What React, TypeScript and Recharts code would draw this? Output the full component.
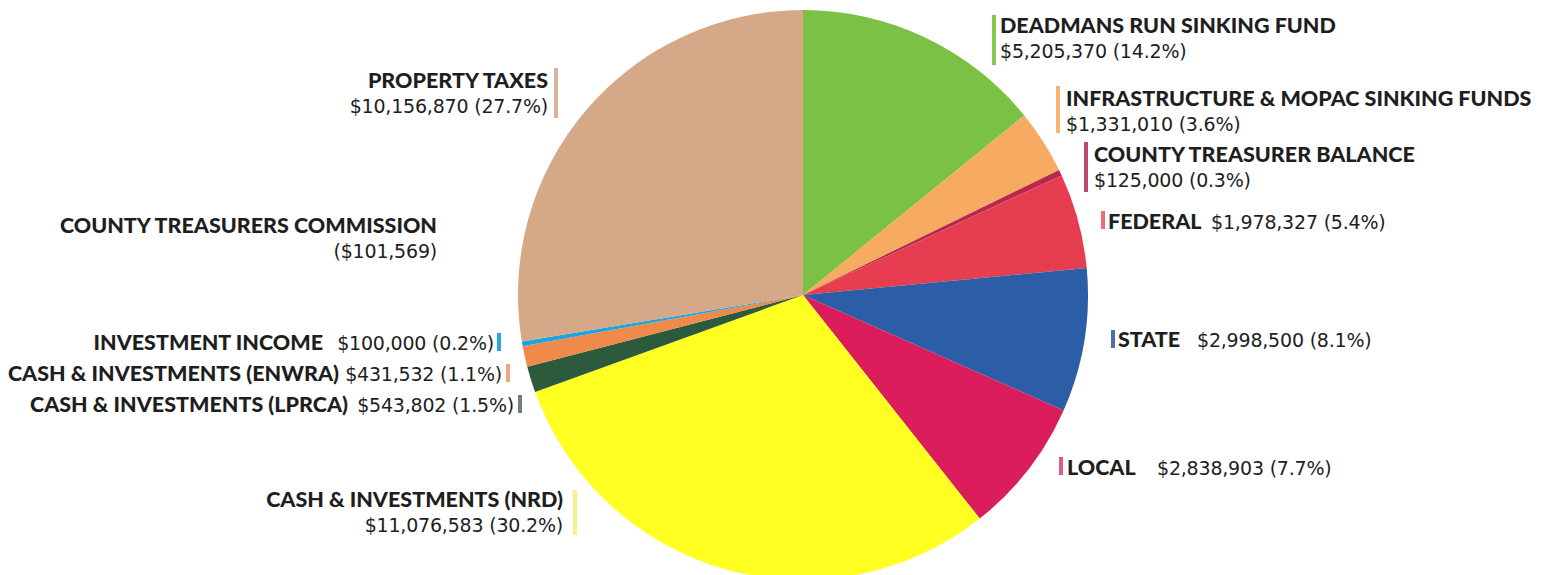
import { PieChart, Pie, Cell } from "recharts";

// Revenue sources, clockwise from 12 o'clock
const names = [
  "DEADMANS RUN SINKING FUND",
  "INFRASTRUCTURE & MOPAC SINKING FUNDS",
  "COUNTY TREASURER BALANCE",
  "FEDERAL",
  "STATE",
  "LOCAL",
  "CASH & INVESTMENTS (NRD)",
  "CASH & INVESTMENTS (LPRCA)",
  "CASH & INVESTMENTS (ENWRA)",
  "INVESTMENT INCOME",
  "PROPERTY TAXES",
];
const amounts = [
  5205370, 1331010, 125000, 1978327, 2998500, 2838903, 11076583, 543802,
  431532, 100000, 10156870,
];
const percents = ["14.2", "3.6", "0.3", "5.4", "8.1", "7.7", "30.2", "1.5", "1.1", "0.2", "27.7"];

// negative item, shown as text only
const commissionName = "COUNTY TREASURERS COMMISSION";
const commissionAmount = -101569;

const colors = [
  "#7bc244", "#f6aa62", "#b8284e", "#e63e50", "#2c5ea7", "#db1d5c",
  "#ffff22", "#2c5a3c", "#f08a4a", "#1ea3dc", "#d5a987",
];
const barColors = [
  "#86c94f", "#f7b373", "#c2456c", "#ec6b79", "#4a6fb0", "#e4578a",
  "#f3f38a", "#7a7a7a", "#f5a583", "#2aa7dc", "#d8b49c",
];

// label placement: [titleX, titleY, valueX, valueY, barX, barY, barH], anchor
const layout: { t: number[]; anchor: "start" | "end" }[] = [
  { t: [1000, 33, 1000, 58, 992, 15, 50], anchor: "start" },
  { t: [1066, 106, 1066, 131, 1056, 86, 47], anchor: "start" },
  { t: [1094, 162, 1094, 187, 1084, 142, 50], anchor: "start" },
  { t: [1108, 229, 1211, 229, 1101, 211, 18], anchor: "start" },
  { t: [1118, 347, 1197, 347, 1111, 330, 18], anchor: "start" },
  { t: [1067, 475, 1157, 475, 1059, 457, 18], anchor: "start" },
  { t: [563, 507, 563, 532, 573, 490, 45], anchor: "end" },
  { t: [348, 412, 514, 412, 518, 395, 18], anchor: "end" },
  { t: [339, 381, 502, 381, 506, 364, 18], anchor: "end" },
  { t: [323, 350, 494, 350, 497, 333, 18], anchor: "end" },
  { t: [548, 88, 548, 113, 554, 68, 50], anchor: "end" },
];

const data = names.map((name, i) => ({ name, value: amounts[i], pct: percents[i] }));

const titleFont = { fontFamily: "Lato", fontWeight: 900, fontSize: 21.5, fill: "#1e1e1e" };
const valueFont = { fontFamily: "DejaVu Sans", fontWeight: 400, fontSize: 19, fill: "#1e1e1e", letterSpacing: -0.2 };

const fmt = (v: number) => "$" + v.toLocaleString("en-US");

function renderLabel(props: any) {
  const i = props.index;
  const d = data[i];
  const l = layout[i];
  const [tx, ty, vx, vy, bx, by, bh] = l.t;
  return (
    <g key={"lbl" + i}>
      <rect x={bx} y={by} width={4} height={bh} fill={barColors[i]} />
      <text x={tx} y={ty} textAnchor={l.anchor} style={titleFont}>
        {d.name}
      </text>
      <text x={vx} y={vy} textAnchor={l.anchor} style={valueFont}>
        {fmt(d.value)} ({d.pct}%)
      </text>
    </g>
  );
}

export default function App() {
  return (
    <div style={{ position: "absolute", left: 0, top: 0, width: 1549, height: 575, background: "#fff" }}>
      <PieChart width={1549} height={575} margin={{ top: 0, right: 0, bottom: 0, left: 0 }}>
        <Pie
          data={data}
          dataKey="value"
          nameKey="name"
          cx={803}
          cy={295}
          outerRadius={285}
          startAngle={90}
          endAngle={-270}
          stroke="none"
          label={renderLabel}
          labelLine={false}
          isAnimationActive={false}
        >
          {data.map((d, i) => (
            <Cell key={d.name} fill={colors[i]} />
          ))}
        </Pie>
      </PieChart>
      <svg width={1549} height={575} style={{ position: "absolute", left: 0, top: 0, pointerEvents: "none" }}>
        <text x={437} y={233} textAnchor="end" style={titleFont}>
          {commissionName}
        </text>
        <text x={437} y={258} textAnchor="end" style={valueFont}>
          ({fmt(-commissionAmount)})
        </text>
      </svg>
    </div>
  );
}
